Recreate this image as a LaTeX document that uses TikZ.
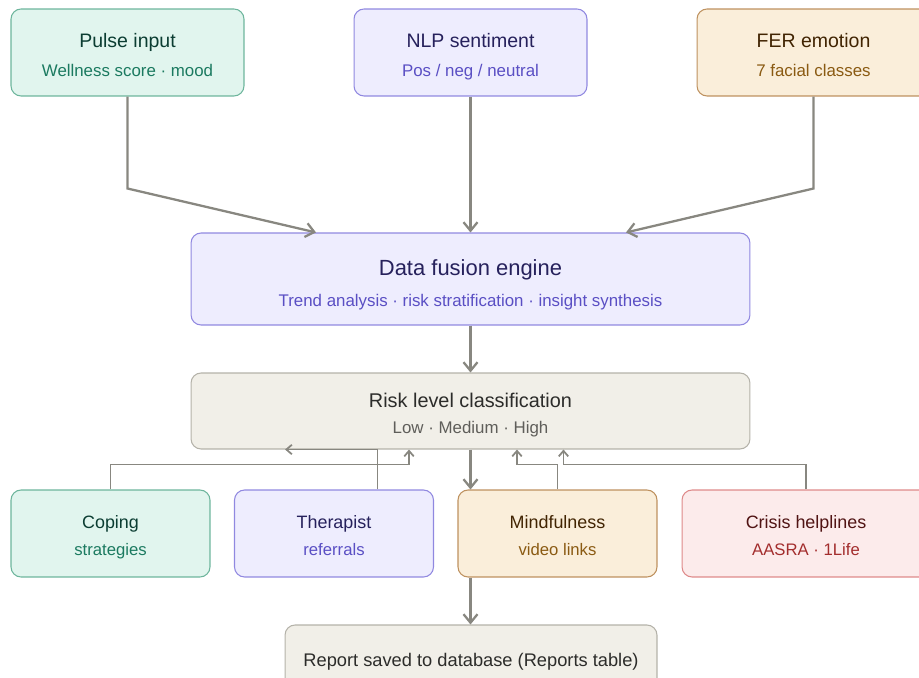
\documentclass[tikz,border=0pt]{standalone}
\usepackage{fontspec}
\setmainfont{Liberation Sans}
\usetikzlibrary{arrows.meta}

\definecolor{tealfill}{HTML}{E1F5EE}
\definecolor{tealline}{HTML}{6DB59C}
\definecolor{tealtitle}{HTML}{0B3D32}
\definecolor{tealsub}{HTML}{1B7A60}
\definecolor{purplefill}{HTML}{EEEDFE}
\definecolor{purpleline}{HTML}{9088E0}
\definecolor{purpletitle}{HTML}{26215C}
\definecolor{purplesub}{HTML}{5A4FC4}
\definecolor{amberfill}{HTML}{FAEEDA}
\definecolor{amberline}{HTML}{BE915F}
\definecolor{ambertitle}{HTML}{412402}
\definecolor{ambersub}{HTML}{8A5A12}
\definecolor{grayfill}{HTML}{F1EFE8}
\definecolor{grayline}{HTML}{B4B2A9}
\definecolor{graytitle}{HTML}{2C2C2A}
\definecolor{graysub}{HTML}{5F5E5A}
\definecolor{redfill}{HTML}{FCEBEB}
\definecolor{redline}{HTML}{DE8A8A}
\definecolor{redtitle}{HTML}{501313}
\definecolor{redsub}{HTML}{A32D2D}
\definecolor{flowgray}{HTML}{888780}

\newcommand{\cardline}[3]{{\color{#1}\fontsize{#2}{#2}\selectfont #3}}

\tikzset{
card/.style={rectangle, rounded corners=0.2cm, draw, line width=0.6pt, align=center, inner sep=0pt, text depth=0pt},
tealcard/.style={card, fill=tealfill, draw=tealline, text=tealtitle},
purplecard/.style={card, fill=purplefill, draw=purpleline, text=purpletitle},
ambercard/.style={card, fill=amberfill, draw=amberline, text=ambertitle},
graycard/.style={card, fill=grayfill, draw=grayline, text=graytitle},
redcard/.style={card, fill=redfill, draw=redline, text=redtitle},
topcard/.style={minimum width=4.66cm, minimum height=1.74cm, text height=27.8pt, font=\fontsize{11.1}{13}\selectfont},
widecard/.style={minimum width=11.18cm},
smallcard/.style={minimum width=3.98cm, minimum height=1.74cm, text height=25.2pt, font=\fontsize{10.2}{12}\selectfont},
flow/.style={draw=flowgray, line width=1.3pt, -{Straight Barb[length=1.7mm,width=2.8mm]}},
feed/.style={draw=flowgray, line width=1pt, -{Straight Barb[length=1.1mm,width=1.9mm]}}
}

\begin{document}
\begin{tikzpicture}[x=0.02cm, y=-0.02cm]
\useasboundingbox (0,0) rectangle (919,678);

\node[tealcard, topcard] (pulse) at (127.5,52.5) {Pulse input\\[4pt]\cardline{tealsub}{9.6}{Wellness score · mood}};
\node[purplecard, topcard] (nlp) at (470.5,52.5) {NLP sentiment\\[4pt]\cardline{purplesub}{9.6}{Pos / neg / neutral}};
\node[ambercard, topcard] (fer) at (813.5,52.5) {FER emotion\\[4pt]\cardline{ambersub}{9.6}{7 facial classes}};

\node[purplecard, widecard, minimum height=1.84cm, text height=31.8pt, font=\fontsize{12.5}{14}\selectfont] (fusion) at (470.5,279) {Data fusion engine\\[4pt]\cardline{purplesub}{9.6}{Trend analysis · risk stratification · insight synthesis}};
\node[graycard, widecard, minimum height=1.52cm, text height=26.1pt, font=\fontsize{11.3}{13}\selectfont] (risk) at (470.5,411) {Risk level classification\\[1.9pt]\cardline{graysub}{9.6}{Low · Medium · High}};

\node[tealcard, smallcard] (coping) at (110.5,533.5) {Coping\\[3.5pt]\cardline{tealsub}{9.5}{strategies}};
\node[purplecard, smallcard] (therapist) at (334,533.5) {Therapist\\[3.5pt]\cardline{purplesub}{9.5}{referrals}};
\node[ambercard, smallcard] (mindful) at (557.5,533.5) {Mindfulness\\[3.5pt]\cardline{ambersub}{9.5}{video links}};
\node[redcard, smallcard, minimum width=4.96cm] (crisis) at (806,533.5) {Crisis helplines\\[3.5pt]\cardline{redsub}{9.5}{AASRA · 1Life}};

\node[graycard, minimum width=7.44cm, minimum height=1.4cm, font=\fontsize{10.4}{12}\selectfont] (report) at (471,660) {Report saved to database (Reports table)};

\draw[flow] (pulse.south) -- ++(0,92) -- ([xshift=-3.09cm]fusion.north);
\draw[flow] (nlp.south) -- (fusion.north);
\draw[flow] (fer.south) -- ++(0,92) -- ([xshift=3.11cm]fusion.north);
\draw[flow] (fusion.south) -- (risk.north);
\draw[flow] (risk.south) -- (risk.south |- mindful.north);
\draw[flow] (risk.south |- mindful.south) -- (risk.south |- report.north);

\draw[feed] (coping.north) -- ++(0,-25) -| ([xshift=-1.23cm]risk.south);
\draw[feed] ([xshift=0.87cm]therapist.north) |- ([xshift=-3.71cm]risk.south);
\draw[feed] (mindful.north) -- ++(0,-25) -| ([xshift=0.93cm]risk.south);
\draw[feed] (crisis.north) -- ++(0,-25) -| ([xshift=1.86cm]risk.south);
\end{tikzpicture}
\end{document}
